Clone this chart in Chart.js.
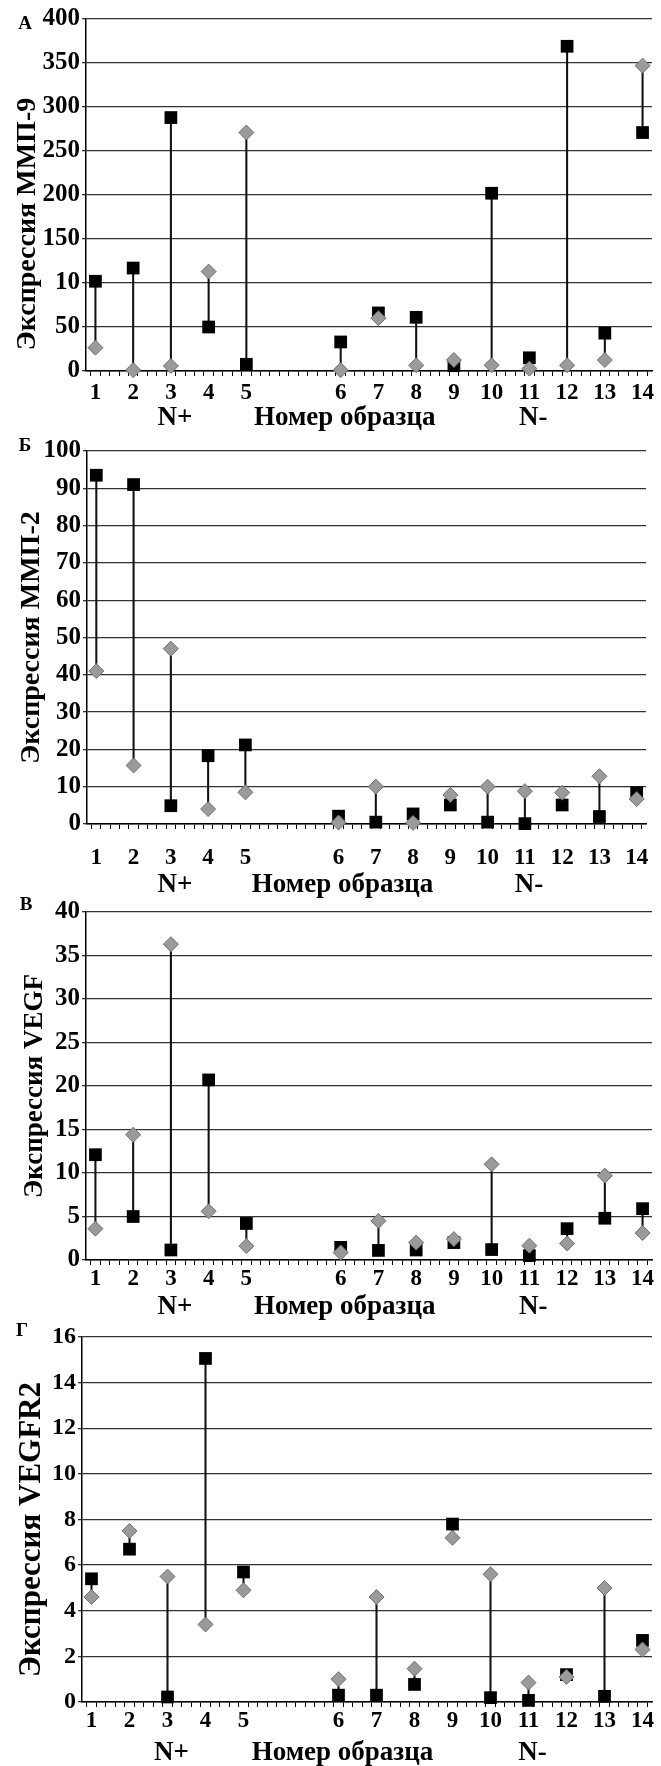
<!DOCTYPE html>
<html>
<head>
<meta charset="utf-8">
<script src="https://cdn.jsdelivr.net/npm/chart.js@4/dist/chart.umd.min.js"></script>
<style>
  body { margin: 0; background: #fff; }
  #page { position: relative; width: 661px; height: 1766px; overflow: hidden; }
  canvas { position: absolute; left: 0; }
</style>
</head>
<body>
<div id="page">
  <canvas id="chartA"></canvas>
  <canvas id="chartB"></canvas>
  <canvas id="chartV"></canvas>
  <canvas id="chartG"></canvas>
</div>
<script>
// sample numbers and their x values (gap between N+ and N- groups)
const samples = ['1', '2', '3', '4', '5', '6', '7', '8', '9', '10', '11', '12', '13', '14'];
const sampleX = [1, 2, 3, 4, 5, 7.5, 8.5, 9.5, 10.5, 11.5, 12.5, 13.5, 14.5, 15.5];

// А: ММП-9
const mmp9Square  = [102, 117, 288, 50, 7.6, 33, 66, 61, 6, 202, 15, 369, 43, 271];
const mmp9Diamond = [26.5, 1, 5.7, 113, 271, 1, 60, 6.5, 12.5, 6.5, 2.7, 6.5, 12.5, 347];
const mmp9Ticks   = ['0', '50', '10', '150', '200', '250', '300', '350', '400'];

// Б: ММП-2
const mmp2Square  = [93.5, 91, 4.9, 18.3, 21.2, 2.1, 0.5, 2.7, 5.1, 0.5, 0.1, 5.1, 2, 8.4];
const mmp2Diamond = [41, 15.7, 47, 4, 8.5, 0.4, 10, 0.3, 7.8, 10, 8.8, 8.4, 12.8, 6.7];
const mmp2Ticks   = ['0', '10', '20', '30', '40', '50', '60', '70', '80', '90', '100'];

// В: VEGF
const vegfSquare  = [12.1, 5.0, 1.15, 20.7, 4.2, 1.45, 1.1, 1.15, 2.0, 1.2, 0.5, 3.6, 4.8, 5.9];
const vegfDiamond = [3.6, 14.4, 36.3, 5.6, 1.6, 0.85, 4.5, 2.0, 2.4, 11, 1.65, 1.9, 9.7, 3.1];
const vegfTicks   = ['0', '5', '10', '15', '20', '25', '30', '35', '40'];

// Г: VEGFR2
const vegfr2Square  = [5.4, 6.7, 0.22, 15.06, 5.7, 0.3, 0.3, 0.77, 7.8, 0.19, 0.07, 1.2, 0.25, 2.7];
const vegfr2Diamond = [4.6, 7.5, 5.5, 3.4, 4.9, 1.0, 4.6, 1.46, 7.2, 5.6, 0.85, 1.1, 5.0, 2.3];
const vegfr2Ticks   = ['0', '2', '4', '6', '8', '10', '12', '14', '16'];

const FONT = '"Liberation Serif", "Times New Roman", serif';

const panelText = {
  id: 'panelText',
  afterDraw(chart, args, o) {
    const ctx = chart.ctx, area = chart.chartArea, xs = chart.scales.x;
    ctx.save();
    ctx.fillStyle = '#000';
    ctx.textAlign = 'center';
    ctx.textBaseline = 'middle';
    ctx.font = 'bold 19px ' + FONT;
    ctx.fillText(o.letter, o.letterX, o.letterY);
    ctx.font = 'bold 27px ' + FONT;
    [['N+', 2], ['Номер образца', 5], ['N-', 10]].forEach(([t, i]) => {
      ctx.fillText(t, xs.getPixelForValue(sampleX[i]) + 4, area.bottom + o.groupDy);
    });
    ctx.translate(o.titleX, (area.top + area.bottom) / 2 + o.titleDy);
    ctx.rotate(-Math.PI / 2);
    ctx.font = 'bold ' + o.titleSize + 'px ' + FONT;
    ctx.fillText(o.title, 0, 0);
    ctx.restore();
  }
};

function makePanel(id, p) {
  const canvas = document.getElementById(id);
  canvas.width = 661;
  canvas.height = p.h;
  canvas.style.top = p.top + 'px';

  const lines = samples.map((s, i) => ({
    x: sampleX[i],
    y: [Math.min(p.squares[i], p.diamonds[i]), Math.max(p.squares[i], p.diamonds[i])]
  }));

  new Chart(canvas, {
    type: 'scatter',
    data: {
      datasets: [
        {
          type: 'bar',
          data: lines,
          backgroundColor: '#111',
          barThickness: 1.4,
          grouped: false,
          order: 3
        },
        {
          data: samples.map((s, i) => ({ x: sampleX[i], y: p.squares[i] })),
          pointStyle: 'rect',
          radius: 9,
          backgroundColor: '#000',
          borderColor: '#000',
          borderWidth: 0,
          clip: false,
          order: 2
        },
        {
          data: samples.map((s, i) => ({ x: sampleX[i], y: p.diamonds[i] })),
          pointStyle: 'rectRot',
          radius: 7.5,
          backgroundColor: '#9a9a9a',
          borderColor: '#707070',
          borderWidth: 1,
          clip: false,
          order: 1
        }
      ]
    },
    options: {
      responsive: false,
      animation: false,
      devicePixelRatio: 1,
      layout: { padding: { top: p.area.t - p.top, right: 661 - p.area.r, left: 0, bottom: 0 } },
      plugins: {
        legend: { display: false },
        tooltip: { enabled: false },
        panelText: {
          letter: p.letter, letterX: p.letterX, letterY: p.letterY - p.top,
          title: p.title, titleSize: p.titleSize, titleX: p.titleX, titleDy: p.titleDy,
          groupDy: p.groupDy
        }
      },
      scales: {
        x: {
          type: 'linear',
          min: 0.75,
          max: 15.75,
          offset: false,
          afterBuildTicks: axis => {
            const t = [];
            for (let v = 0.75; v <= 15.75; v += 0.25) t.push({ value: v });
            axis.ticks = t;
          },
          afterFit: s => { s.height = p.top + p.h - p.area.b; },
          grid: { drawOnChartArea: false, drawTicks: true, tickLength: 5, color: '#000', lineWidth: 1 },
          border: { color: '#000', width: 1.5 },
          ticks: {
            autoSkip: false,
            maxRotation: 0,
            padding: p.labelPad,
            color: '#000',
            font: { family: FONT, size: 23, weight: 'bold' },
            callback: v => {
              const i = sampleX.indexOf(v);
              return i >= 0 ? samples[i] : '';
            }
          }
        },
        y: {
          min: 0,
          max: p.max,
          afterBuildTicks: axis => {
            axis.ticks = p.ticks.map((t, i) => ({ value: i * p.step }));
          },
          afterFit: s => { s.width = p.area.l; },
          grid: { color: '#333', lineWidth: 1.3, tickLength: 4 },
          border: { color: '#000', width: 1.5 },
          ticks: {
            padding: 2,
            color: '#000',
            font: { family: FONT, size: p.yFont, weight: 'bold' },
            callback: (v, i) => p.ticks[i]
          }
        }
      }
    },
    plugins: [panelText]
  });
}

makePanel('chartA', {
  top: 0, h: 440, area: { t: 19, b: 371, l: 86, r: 653 },
  squares: mmp9Square, diamonds: mmp9Diamond, ticks: mmp9Ticks, step: 50, max: 400,
  letter: 'А', letterX: 25, letterY: 24,
  title: 'Экспрессия ММП-9', titleSize: 28, titleX: 28, titleDy: 29,
  groupDy: 47, labelPad: 3, yFont: 25
});

makePanel('chartB', {
  top: 425, h: 480, area: { t: 451, b: 824, l: 87, r: 661 },
  squares: mmp2Square, diamonds: mmp2Diamond, ticks: mmp2Ticks, step: 10, max: 100,
  letter: 'Б', letterX: 25, letterY: 446,
  title: 'Экспрессия ММП-2', titleSize: 28, titleX: 32, titleDy: 0,
  groupDy: 61, labelPad: 15, yFont: 25
});

makePanel('chartV', {
  top: 890, h: 430, area: { t: 912, b: 1260, l: 86, r: 655 },
  squares: vegfSquare, diamonds: vegfDiamond, ticks: vegfTicks, step: 5, max: 40,
  letter: 'В', letterX: 26, letterY: 905,
  title: 'Экспрессия VEGF', titleSize: 27, titleX: 35, titleDy: 0,
  groupDy: 47, labelPad: 0, yFont: 25
});

makePanel('chartG', {
  top: 1310, h: 456, area: { t: 1337, b: 1702, l: 82, r: 655 },
  squares: vegfr2Square, diamonds: vegfr2Diamond, ticks: vegfr2Ticks, step: 2, max: 16,
  letter: 'Г', letterX: 22, letterY: 1331,
  title: 'Экспрессия VEGFR2', titleSize: 31, titleX: 32, titleDy: 10,
  groupDy: 51, labelPad: 0, yFont: 24
});
</script>
</body>
</html>
